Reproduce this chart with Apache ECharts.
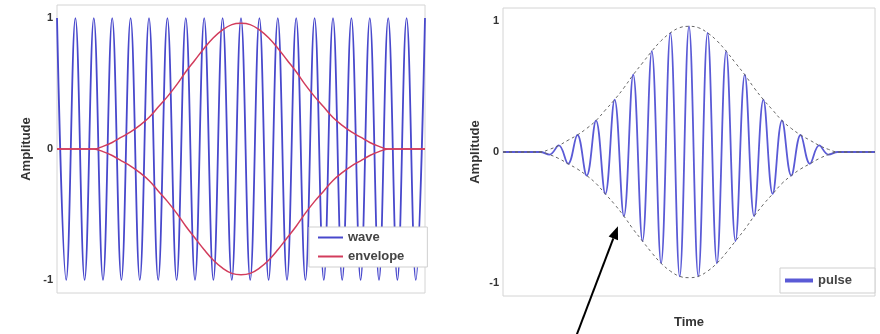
<!DOCTYPE html>
<html>
<head>
<meta charset="utf-8">
<script src="https://cdn.jsdelivr.net/npm/echarts@6/dist/echarts.min.js"></script>
<style>
  html, body { margin: 0; padding: 0; background: #fff; }
  #chart { width: 880px; height: 334px; }
</style>
</head>
<body>
<div id="chart"></div>
<script>
// time axis, sampled at every half cycle of the carrier
const time = [0, 0.025, 0.05, 0.075, 0.1, 0.125, 0.15, 0.175, 0.2, 0.225,
  0.25, 0.275, 0.3, 0.325, 0.35, 0.375, 0.4, 0.425, 0.45, 0.475,
  0.5, 0.525, 0.55, 0.575, 0.6, 0.625, 0.65, 0.675, 0.7, 0.725,
  0.75, 0.775, 0.8, 0.825, 0.85, 0.875, 0.9, 0.925, 0.95, 0.975, 1]

// carrier peaks / troughs
const wave = [1, -1, 1, -1, 1, -1, 1, -1, 1, -1,
  1, -1, 1, -1, 1, -1, 1, -1, 1, -1,
  1, -1, 1, -1, 1, -1, 1, -1, 1, -1,
  1, -1, 1, -1, 1, -1, 1, -1, 1, -1, 1]

const envelopeUpper = [0, 0, 0, 0, 0, 0.02, 0.05, 0.09, 0.13, 0.18,
  0.24, 0.32, 0.40, 0.49, 0.59, 0.68, 0.77, 0.85, 0.91, 0.95,
  0.96, 0.95, 0.91, 0.85, 0.77, 0.68, 0.59, 0.49, 0.40, 0.32,
  0.24, 0.18, 0.13, 0.09, 0.05, 0.02, 0, 0, 0, 0, 0]

const envelopeLower = [0, 0, 0, 0, 0, -0.02, -0.05, -0.09, -0.13, -0.18,
  -0.24, -0.32, -0.40, -0.49, -0.59, -0.68, -0.77, -0.85, -0.91, -0.95,
  -0.96, -0.95, -0.91, -0.85, -0.77, -0.68, -0.59, -0.49, -0.40, -0.32,
  -0.24, -0.18, -0.13, -0.09, -0.05, -0.02, 0, 0, 0, 0, 0]

const pulse = [0, 0, 0, 0, 0, -0.02, 0.05, -0.09, 0.13, -0.18,
  0.24, -0.32, 0.40, -0.49, 0.59, -0.68, 0.77, -0.85, 0.91, -0.95,
  0.96, -0.95, 0.91, -0.85, 0.77, -0.68, 0.59, -0.49, 0.40, -0.32,
  0.24, -0.18, 0.13, -0.09, 0.05, -0.02, 0, 0, 0, 0, 0]

const yTicks = [-1, 0, 1]

// annotation arrow on the right panel (data coords)
const arrowTail = [0.195, -1.42]
const arrowTip = [0.309, -0.567]

const pairs = vals => time.map((t, i) => [t, vals[i]])

const font = { fontFamily: 'Liberation Sans, Arial, sans-serif', fontWeight: 'bold', color: '#333' }

const makeY = (gridIndex, nameGap) => ({
  type: 'value',
  gridIndex,
  min: -1.1,
  max: 1.1,
  name: 'Amplitude',
  nameLocation: 'middle',
  nameGap,
  nameRotate: 90,
  nameTextStyle: { ...font, fontSize: 13 },
  axisLine: { show: false },
  axisTick: { show: false },
  splitLine: { show: false },
  axisLabel: { customValues: yTicks, margin: 4, ...font, fontSize: 11 }
})

const makeX = gridIndex => ({
  type: 'value',
  gridIndex,
  min: 0,
  max: 1,
  axisLine: { show: false },
  axisTick: { show: false },
  axisLabel: { show: false },
  splitLine: { show: false }
})

const lineSeries = (name, vals, axis, color, width, extra) => ({
  name,
  type: 'line',
  xAxisIndex: axis,
  yAxisIndex: axis,
  data: pairs(vals),
  smooth: 0.4,
  showSymbol: false,
  symbol: 'none',
  lineStyle: { color, width, ...(extra || {}) },
  itemStyle: { color },
  silent: true
})

const chart = echarts.init(document.getElementById('chart'))

const options = {
  animation: false,
  backgroundColor: '#fff',
  grid: [
    { left: 57, top: 5, width: 368, height: 288, show: true, borderColor: '#d4d4d4', borderWidth: 1, backgroundColor: '#fff' },
    { left: 503, top: 8, width: 372, height: 289, show: true, borderColor: '#d4d4d4', borderWidth: 1, backgroundColor: '#fff' }
  ],
  xAxis: [
    makeX(0),
    {
      ...makeX(1),
      name: 'Time',
      nameLocation: 'middle',
      nameGap: 20,
      nameTextStyle: { ...font, fontSize: 13 }
    }
  ],
  yAxis: [makeY(0, 24), makeY(1, 21)],
  legend: [
    {
      data: ['wave', 'envelope'],
      orient: 'vertical',
      left: 309,
      top: 227,
      padding: [4, 23, 4, 9],
      itemGap: 6,
      itemWidth: 25,
      itemHeight: 2,
      icon: 'rect',
      backgroundColor: '#fff',
      borderColor: '#cfcfcf',
      borderWidth: 1,
      textStyle: { ...font, fontSize: 13, color: '#444' }
    },
    {
      data: ['pulse'],
      orient: 'vertical',
      left: 780,
      top: 268,
      padding: [6, 23, 6, 5],
      itemWidth: 28,
      itemHeight: 4,
      icon: 'rect',
      backgroundColor: '#fff',
      borderColor: '#cfcfcf',
      borderWidth: 1,
      textStyle: { ...font, fontSize: 13, color: '#444' }
    }
  ],
  series: [
    lineSeries('wave', wave, 0, '#4848cc', 1.8),
    lineSeries('envelope', envelopeUpper, 0, '#d23c5c', 1.5),
    lineSeries('envelope', envelopeLower, 0, '#d23c5c', 1.5),
    lineSeries('pulse', pulse, 1, '#5a5ad6', 1.8),
    lineSeries('pulse envelope', envelopeUpper, 1, '#666', 1, { type: [3, 3] }),
    lineSeries('pulse envelope', envelopeLower, 1, '#666', 1, { type: [3, 3] })
  ]
}

chart.setOption(options)

// arrow drawn from data coords converted through the right grid
const tip = chart.convertToPixel({ gridIndex: 1 }, arrowTip)
const tail = chart.convertToPixel({ gridIndex: 1 }, arrowTail)
const ang = Math.atan2(tip[1] - tail[1], tip[0] - tail[0])
const headLen = 13
const headHalf = 5
const base = [tip[0] - headLen * Math.cos(ang), tip[1] - headLen * Math.sin(ang)]
const nx = -Math.sin(ang)
const ny = Math.cos(ang)

chart.setOption({
  graphic: [
    {
      type: 'line',
      silent: true,
      shape: { x1: tail[0], y1: tail[1], x2: base[0], y2: base[1] },
      style: { stroke: '#000', lineWidth: 2 }
    },
    {
      type: 'polygon',
      silent: true,
      shape: {
        points: [
          tip,
          [base[0] + nx * headHalf, base[1] + ny * headHalf],
          [base[0] - nx * headHalf, base[1] - ny * headHalf]
        ]
      },
      style: { fill: '#000' }
    }
  ]
})

window.addEventListener('resize', () => chart.resize())
</script>
</body>
</html>
